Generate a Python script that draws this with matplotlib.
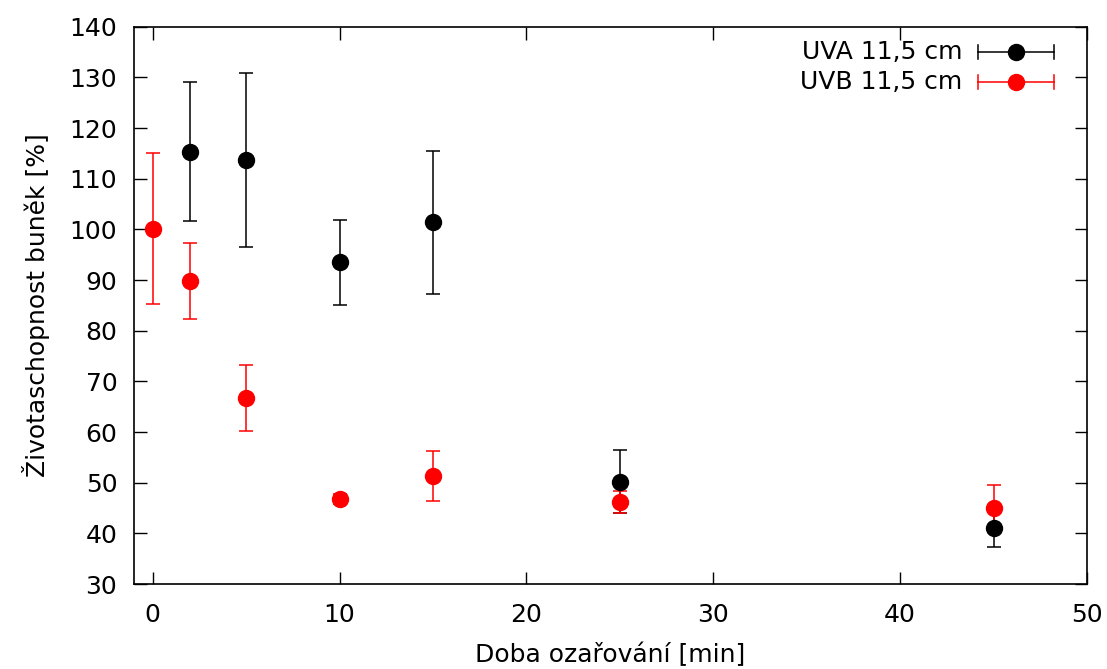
import numpy as np
import matplotlib.pyplot as plt

# viabilita bunek po ozareni UV, vzdalenost 11,5 cm
uva_t = [2, 5, 10, 15, 25, 45]
uva_v = [115.3, 113.7, 93.5, 101.4, 50.2, 41.1]
uva_e = [13.7, 17.2, 8.4, 14.1, 6.2, 3.7]

uvb_t = [0, 2, 5, 10, 15, 25, 45]
uvb_v = [100.1, 89.8, 66.7, 46.8, 51.3, 46.2, 45.1]
uvb_e = [14.9, 7.5, 6.5, 1.0, 5.0, 2.1, 4.5]

labels = ['UVA 11,5 cm', 'UVB 11,5 cm']
colors = ['black', 'red']

plt.rcParams['font.family'] = 'DejaVu Sans'
plt.rcParams['font.size'] = 18

fig = plt.figure(figsize=(11.07, 6.69), dpi=100)
ax = fig.add_axes([0.121, 0.127, 0.861, 0.833])

series = [(uva_t, uva_v, uva_e), (uvb_t, uvb_v, uvb_e)]
for (t, v, e), c in zip(series, colors):
    ax.errorbar(t, v, yerr=e, fmt='o', color=c, ecolor=c, ms=11.5,
                elinewidth=1.1, capsize=5, capthick=1.1, zorder=3)

ax.set_xlim(-1, 50)
ax.set_ylim(30, 140)
ax.set_xticks(np.arange(0, 51, 10))
ax.set_yticks(np.arange(30, 141, 10))
ax.tick_params(direction='in', length=9, width=1, top=True, right=True)
ax.tick_params(axis='x', pad=14)
ax.tick_params(axis='y', pad=12)
for s in ax.spines.values():
    s.set_linewidth(1.2)

ax.set_xlabel('Doba ozařování [min]', labelpad=11)
ax.set_ylabel('Životaschopnost buněk [%]', labelpad=14)

# klic ve stylu gnuplotu: text vlevo, vodorovna usecka s koncovkami vpravo
tr = ax.transAxes
for i, (lab, c) in enumerate(zip(labels, colors)):
    yk = 0.955 - i * 0.054
    ax.text(0.869, yk, lab, transform=tr, ha='right', va='center')
    ax.plot([0.886, 0.965], [yk, yk], color=c, lw=1.1, transform=tr)
    for xe in (0.886, 0.965):
        ax.plot([xe, xe], [yk - 0.012, yk + 0.012], color=c, lw=1.1, transform=tr)
    ax.plot([0.925], [yk], 'o', color=c, ms=11.5, transform=tr)

fig.savefig('out.png', dpi=100)
